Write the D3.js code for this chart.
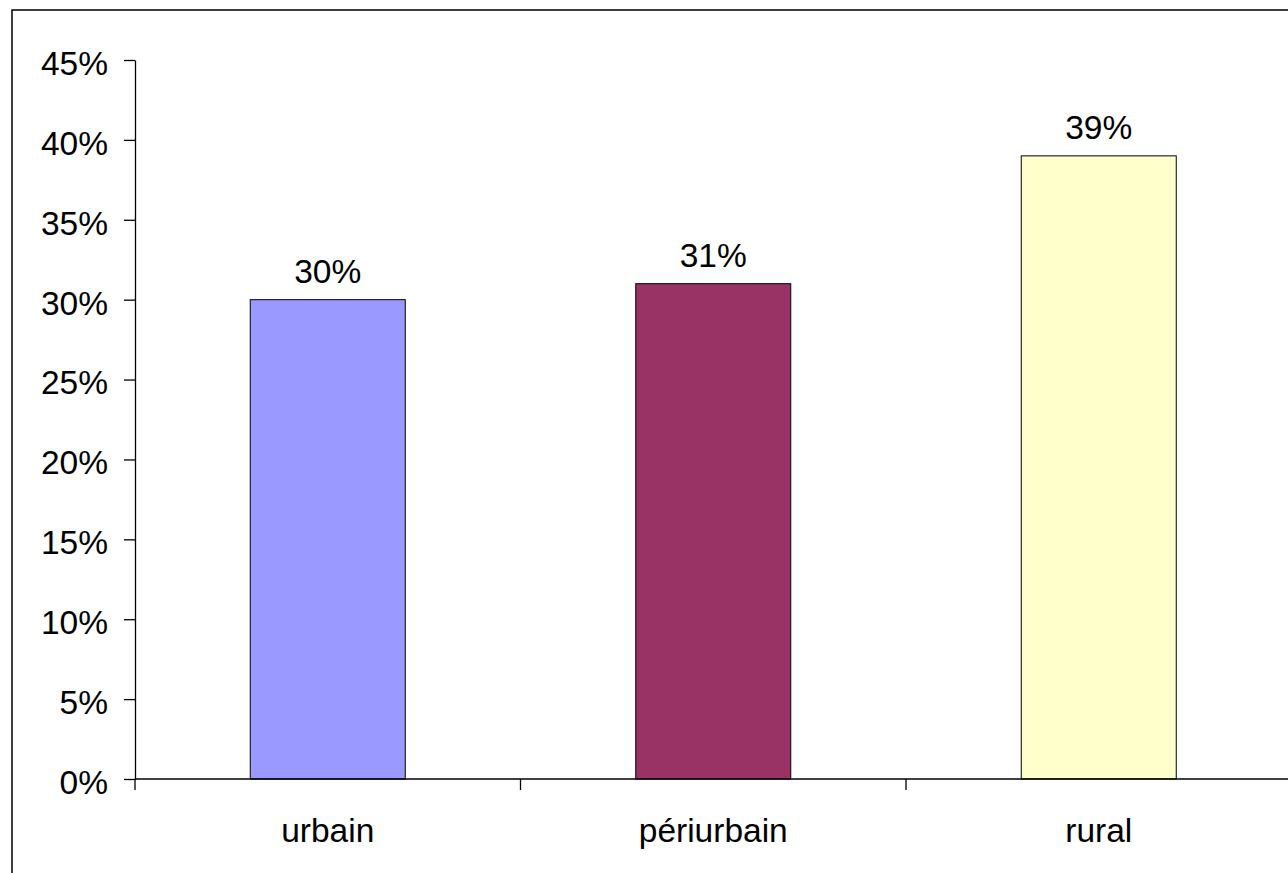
<!DOCTYPE html>
<html>
<head>
<meta charset="utf-8">
<script src="https://cdn.jsdelivr.net/npm/d3@7"></script>
<style>
html,body{margin:0;padding:0;background:#fff;overflow:hidden;}
svg{display:block;}
text{font-family:"Liberation Sans",Arial,sans-serif;fill:#000;}
</style>
</head>
<body>
<svg id="chart" width="1288" height="873"></svg>
<script>
const categories = ["urbain", "périurbain", "rural"];
const values = [0.30, 0.31, 0.39];
const colors = ["#9999FF", "#993366", "#FFFFCC"];
const yTicks = [0, 0.05, 0.10, 0.15, 0.20, 0.25, 0.30, 0.35, 0.40, 0.45];

(function () {
const svg = d3.select("#chart");
const mLeft = 135, mBottom = 779, mTop = 60;
const bandW = 385.5;
const mRight = mLeft + bandW * categories.length;

// outer frame
svg.append("rect")
  .attr("x", 12).attr("y", 10)
  .attr("width", 1400).attr("height", 1000)
  .attr("fill", "#fff").attr("stroke", "#000").attr("stroke-width", 1.5);

const x = d3.scaleBand().domain(categories).range([mLeft, mRight]).paddingInner(0).paddingOuter(0);
const y = d3.scaleLinear().domain([0, 0.45]).range([mBottom, mTop]);

const fs = 33.5;

// bars
const barW = 155;
svg.selectAll("rect.bar").data(categories).enter().append("rect")
  .attr("class", "bar")
  .attr("x", d => x(d) + x.bandwidth() / 2 - barW / 2)
  .attr("y", (d, i) => y(values[i]))
  .attr("width", barW)
  .attr("height", (d, i) => y(0) - y(values[i]))
  .attr("fill", (d, i) => colors[i])
  .attr("stroke", "#000").attr("stroke-width", 1);

// y axis
const yAxis = d3.axisLeft(y).tickValues(yTicks).tickFormat(d3.format(".0%")).tickSizeInner(11).tickSizeOuter(0).tickPadding(16);
const gy = svg.append("g").attr("transform", `translate(${mLeft},0)`).call(yAxis);
gy.select(".domain").attr("stroke", "#000").attr("stroke-width", 1.3);
gy.selectAll(".tick line").attr("stroke", "#000").attr("stroke-width", 1.3);
gy.selectAll(".tick text").attr("font-size", fs).attr("font-family", '"Liberation Sans", Arial, sans-serif').attr("fill", "#000").attr("dy", "0.43em");

// x axis
const xTickPos = d3.range(categories.length + 1).map(i => mLeft + i * bandW);
svg.append("line").attr("x1", mLeft).attr("x2", mRight).attr("y1", mBottom).attr("y2", mBottom)
  .attr("stroke", "#000").attr("stroke-width", 1.3);
svg.selectAll("line.xtick").data(xTickPos).enter().append("line")
  .attr("class", "xtick")
  .attr("x1", d => d).attr("x2", d => d).attr("y1", mBottom).attr("y2", mBottom + 11)
  .attr("stroke", "#000").attr("stroke-width", 1.3);
svg.selectAll("text.xlab").data(categories).enter().append("text")
  .attr("class", "xlab")
  .attr("x", d => x(d) + x.bandwidth() / 2)
  .attr("y", 842)
  .attr("text-anchor", "middle")
  .attr("font-size", fs)
  .text(d => d);

// value labels
svg.selectAll("text.val").data(categories).enter().append("text")
  .attr("class", "val")
  .attr("x", d => x(d) + x.bandwidth() / 2)
  .attr("y", (d, i) => y(values[i]) - 17)
  .attr("text-anchor", "middle")
  .attr("font-size", fs)
  .text((d, i) => d3.format(".0%")(values[i]));
})();
</script>
</body>
</html>
